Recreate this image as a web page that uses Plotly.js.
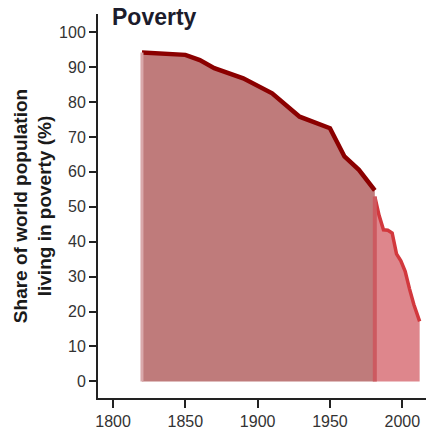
<!DOCTYPE html>
<html>
<head>
<meta charset="utf-8">
<script src="https://cdn.plot.ly/plotly-3.0.1.min.js"></script>
<style>html,body{margin:0;padding:0;background:#fff;}#chart{width:426px;height:430px;}</style>
</head>
<body>
<div id="chart"></div>
<script>
// Historical estimates (dark series)
var histYears = [1820, 1850, 1860, 1870, 1890, 1910, 1929, 1950, 1960, 1970, 1981];
var histShare = [94.2, 93.5, 92.0, 89.7, 86.8, 82.5, 75.8, 72.5, 64.4, 60.6, 54.7];
// Recent estimates (light series)
var recentYears = [1981, 1984, 1987, 1990, 1993, 1996, 1999, 2002, 2005, 2008, 2012];
var recentShare = [52.9, 47.5, 43.4, 43.3, 42.5, 36.5, 34.5, 31.5, 26.5, 22.0, 17.2];

var yTicks = [0, 10, 20, 30, 40, 50, 60, 70, 80, 90, 100];
var xTicks = [1800, 1850, 1900, 1950, 2000];

var traces = [
  {
    x: histYears, y: histShare, type: 'scatter', mode: 'lines',
    fill: 'tozeroy', fillcolor: '#BF7B7B',
    line: {color: '#8B0000', width: 4.5}, hoverinfo: 'skip'
  },
  {
    x: recentYears, y: recentShare, type: 'scatter', mode: 'lines',
    fill: 'tozeroy', fillcolor: '#DE868C',
    line: {color: '#D2383D', width: 3.5}, hoverinfo: 'skip'
  },
  {
    // lighter left edge of the historical area
    x: [histYears[0], histYears[0]], y: [0, histShare[0]], type: 'scatter', mode: 'lines',
    line: {color: '#D9A8AA', width: 3}, hoverinfo: 'skip'
  },
  {
    // darker seam where the two series meet
    x: [recentYears[0], recentYears[0]], y: [0, recentShare[0]], type: 'scatter', mode: 'lines',
    line: {color: '#CC5A60', width: 4}, hoverinfo: 'skip'
  }
];

var layout = {
  width: 426, height: 430,
  margin: {l: 98, r: 0, t: 14, b: 32, pad: 0},
  paper_bgcolor: '#fff', plot_bgcolor: '#fff',
  showlegend: false,
  font: {family: 'Liberation Sans, Arial, sans-serif', color: '#333'},
  title: {
    text: 'Poverty',
    font: {family: 'Liberation Sans, Arial, sans-serif', size: 23, color: '#1c1c2c', weight: 'bold'},
    xref: 'container', yref: 'container',
    x: 112 / 426, xanchor: 'left',
    y: 1 - 17 / 430, yanchor: 'middle'
  },
  xaxis: {
    range: [1789.6, 2016.4],
    tickvals: xTicks, ticktext: xTicks.map(String),
    ticks: 'outside', ticklen: 8, tickwidth: 2, tickcolor: '#222',
    showline: true, linecolor: '#222', linewidth: 2,
    showgrid: false, zeroline: false,
    tickfont: {size: 16, color: '#333'},
    automargin: false, fixedrange: true
  },
  yaxis: {
    range: [-4.75, 105.2],
    tickvals: yTicks, ticktext: yTicks.map(String),
    ticks: 'outside', ticklen: 7, tickwidth: 2, tickcolor: '#222',
    showline: true, linecolor: '#222', linewidth: 2,
    showgrid: false, zeroline: false,
    tickfont: {size: 16, color: '#333'},
    title: {
      text: 'Share of world population<br>living in poverty (%)',
      font: {size: 19, color: '#1a1a1a', weight: 'bold'},
      standoff: 2
    },
    automargin: false, fixedrange: true
  }
};

Plotly.newPlot('chart', traces, layout, {staticPlot: true, displayModeBar: false});
</script>
</body>
</html>
